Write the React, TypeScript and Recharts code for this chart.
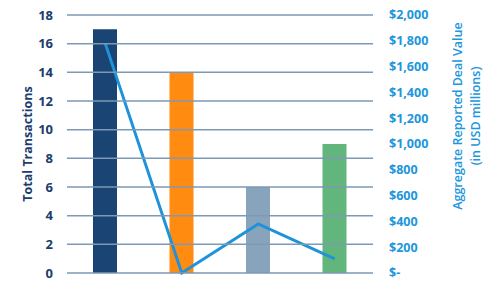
import React from "react";
import { ComposedChart, Bar, Line, XAxis, YAxis, Cell, Label } from "recharts";

const categories = ["A", "B", "C", "D"];
const transactions = [17, 14, 6, 9];
const dealValues = [1780, 0, 380, 110];
const barColors = ["#1a4473", "#ff8c11", "#88a4bc", "#62b67b"];
const leftTicks = [0, 2, 4, 6, 8, 10, 12, 14, 16, 18];
const rightTicks = [0, 200, 400, 600, 800, 1000, 1200, 1400, 1600, 1800, 2000];
const leftMax = 18;

const data = categories.map((c, i) => ({ name: c, tx: transactions[i], val: dealValues[i] }));

const CHART_W = 493;
const LEFT_W = 67;
const RIGHT_W = 120;

const FONT = "'Open Sans', sans-serif";
const NAVY = "#1b3d6d";
const BLUE = "#2096dc";
const GRID = "#7d99b5";

const fmtRight = (v: number) => (v === 0 ? "$-" : "$" + v.toLocaleString("en-US"));

const LeftTick = (props: any) => {
  const { x, y, payload } = props;
  return (
    <g>
      <line x1={LEFT_W} x2={CHART_W - RIGHT_W} y1={y} y2={y} stroke={GRID} strokeWidth={1.5} />
      <text
        x={x}
        y={y}
        dy="0.355em"
        textAnchor="end"
        fill={NAVY}
        fontSize={13}
        fontWeight={700}
        fontFamily={FONT}
      >
        {payload.value}
      </text>
    </g>
  );
};

export default function App() {
  return (
    <div style={{ position: "absolute", left: 0, top: 0 }}>
      <ComposedChart width={CHART_W} height={288} data={data} margin={{ top: 15, right: 0, left: 0, bottom: 15 }}>
        <XAxis dataKey="name" hide />
        <YAxis
          yAxisId="left"
          orientation="left"
          width={LEFT_W}
          domain={[0, leftMax]}
          ticks={leftTicks}
          axisLine={false}
          tickLine={false}
          tickSize={0}
          tickMargin={14}
          tick={<LeftTick />}
        >
          <Label
            content={() => (
              <text
                x={27}
                y={144}
                transform="rotate(-90, 27, 144)"
                textAnchor="middle"
                dominantBaseline="central"
                fill={NAVY}
                fontSize={12.5}
                fontWeight={700}
                fontFamily={FONT}
              >
                Total Transactions
              </text>
            )}
          />
        </YAxis>
        <YAxis
          yAxisId="right"
          orientation="right"
          width={RIGHT_W}
          domain={[0, 2000]}
          ticks={rightTicks}
          axisLine={false}
          tickLine={false}
          tickSize={0}
          tickMargin={16}
          tickFormatter={fmtRight}
          tick={{ fill: BLUE, fontSize: 12.5, fontWeight: 700, fontFamily: FONT, textAnchor: "start" }}
        >
          <Label
            content={() => (
              <g>
                <text
                  x={457}
                  y={116}
                  transform="rotate(-90, 457, 116)"
                  textAnchor="middle"
                  dominantBaseline="central"
                  fill={BLUE}
                  fontSize={12.5}
                  fontWeight={600}
                  fontFamily={FONT}
                >
                  Aggregate Reported Deal Value
                </text>
                <text
                  x={475}
                  y={116}
                  transform="rotate(-90, 475, 116)"
                  textAnchor="middle"
                  dominantBaseline="central"
                  fill={BLUE}
                  fontSize={12.5}
                  fontWeight={600}
                  fontFamily={FONT}
                >
                  (in USD millions)
                </text>
              </g>
            )}
          />
        </YAxis>
        <Bar yAxisId="left" dataKey="tx" barSize={24} isAnimationActive={false}>
          {data.map((d, i) => (
            <Cell key={d.name} fill={barColors[i]} />
          ))}
        </Bar>
        <Line
          yAxisId="right"
          type="linear"
          dataKey="val"
          stroke="#1f93da"
          strokeWidth={3}
          dot={false}
          activeDot={false}
          isAnimationActive={false}
        />
      </ComposedChart>
    </div>
  );
}
